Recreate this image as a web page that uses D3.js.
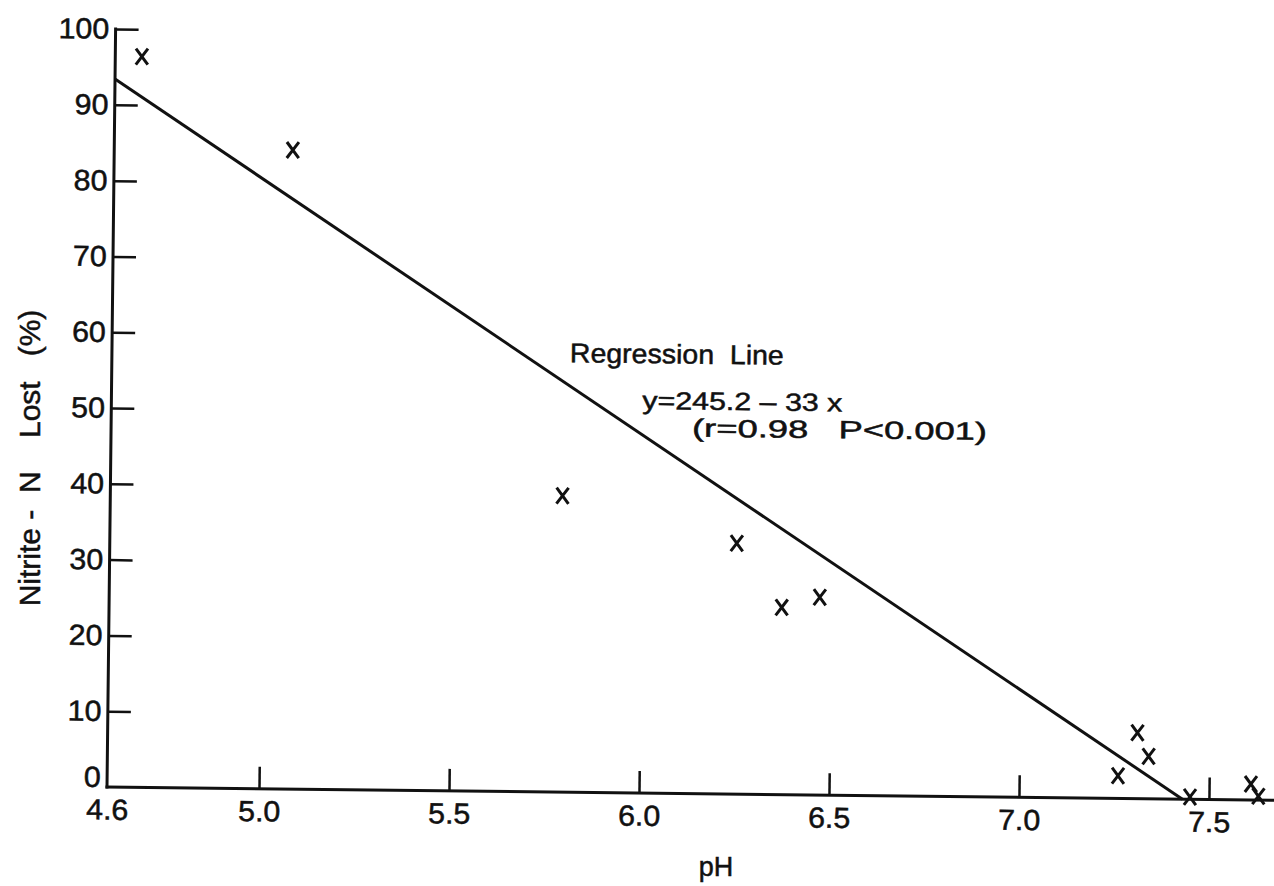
<!DOCTYPE html>
<html>
<head>
<meta charset="utf-8">
<script src="https://cdn.jsdelivr.net/npm/d3@7"></script>
<style>
  html, body { margin: 0; padding: 0; background: #fff; }
  svg { display: block; }
  text { font-family: "Liberation Sans", Arial, sans-serif; fill: #111; stroke: #111; stroke-width: 0.5px; }
</style>
</head>
<body>
<svg id="chart" width="1274" height="886"></svg>
<script>
// Observations: soil pH against percentage of nitrite-N lost
const phValues   = [4.67, 5.07, 5.79, 6.25, 6.37, 6.47, 7.26, 7.31, 7.34, 7.45, 7.61, 7.63];
const lossValues = [96.4, 84.3, 39.1, 33.1, 24.7, 26.1, 3.0, 8.7, 5.6, 0.3, 2.1, 0.5];

// Fitted regression y = a + b x
const regIntercept = 245.2;
const regSlope = -33;

const xTicks = [4.6, 5.0, 5.5, 6.0, 6.5, 7.0, 7.5];
const xTickLabels = ["4.6", "5.0", "5.5", "6.0", "6.5", "7.0", "7.5"];
const yTicks = [0, 10, 20, 30, 40, 50, 60, 70, 80, 90, 100];
const yTickLabels = ["0", "10", "20", "30", "40", "50", "60", "70", "80", "90", "100"];

const annotationLines = ["Regression  Line", "y=245.2 \u2013 33 x", "(r=0.98   P<0.001)"];

const svg = d3.select("#chart");
const ink = "#111";

// Plot frame, origin at the axis corner, slightly tilted
const g = svg.append("g")
  .attr("transform", "translate(107,787) rotate(0.65)");

const x = d3.scaleLinear().domain([4.6, 7.5]).range([0, 1102]);
const y = d3.scaleLinear().domain([0, 100]).range([0, -758]);
const xEnd = 7.68;

// Axis lines
g.append("line")
  .attr("x1", x(4.6)).attr("y1", 0).attr("x2", x(xEnd)).attr("y2", 0)
  .attr("stroke", ink).attr("stroke-width", 3).attr("stroke-linecap", "square");
g.append("line")
  .attr("x1", 0).attr("y1", y(0)).attr("x2", 0).attr("y2", y(100))
  .attr("stroke", ink).attr("stroke-width", 3).attr("stroke-linecap", "square");

// X axis: ticks pointing up into the plot
const xAxis = d3.axisBottom(x)
  .tickValues(xTicks)
  .tickFormat((d, i) => xTickLabels[i])
  .tickSizeInner(-22).tickSizeOuter(0).tickPadding(12);
const gx = g.append("g").call(xAxis);
gx.select(".domain").remove();
gx.selectAll(".tick line").attr("stroke", ink).attr("stroke-width", 2.5)
  .filter(d => d === 4.6).remove();
gx.selectAll(".tick text")
  .attr("font-size", 29).attr("font-family", "Liberation Sans, Arial, sans-serif").attr("fill", ink)
  .attr("transform", "scale(1.05,1)");

// Y axis: ticks pointing right into the plot
const yAxis = d3.axisLeft(y)
  .tickValues(yTicks)
  .tickFormat((d, i) => yTickLabels[i])
  .tickSizeInner(-23).tickSizeOuter(0).tickPadding(6);
const gy = g.append("g").call(yAxis);
gy.select(".domain").remove();
gy.selectAll(".tick line").attr("stroke", ink).attr("stroke-width", 2.5)
  .filter(d => d === 0).remove();
gy.selectAll(".tick text")
  .attr("font-size", 29).attr("font-family", "Liberation Sans, Arial, sans-serif").attr("fill", ink)
  .attr("transform", "scale(1.05,1)")
  .filter(d => d === 0).attr("dy", "-0.02em");

// Regression line, drawn from the stated equation down to its x-intercept
const xStart = 4.6;
const xZero = -regIntercept / regSlope;
const regLine = d3.line().x(d => x(d)).y(d => y(regIntercept + regSlope * d));
g.append("path")
  .attr("d", regLine([xStart, xZero]))
  .attr("fill", "none").attr("stroke", ink).attr("stroke-width", 3);

// Data markers as "x" crosses
const pts = phValues.map((p, i) => ({ p, v: lossValues[i] }));
const mk = g.append("g").selectAll("g").data(pts).join("g")
  .attr("transform", d => `translate(${x(d.p)},${y(d.v)})`);
mk.append("path")
  .attr("d", "M-6,-8L6,8M6,-8L-6,8")
  .attr("fill", "none").attr("stroke", ink).attr("stroke-width", 3);

// Annotation block: wide lettering, stretched horizontally to its set width
const ann = [
  { t: annotationLines[0], u: 458, v: -430, size: 27, w: 214 },
  { t: annotationLines[1], u: 531, v: -384, size: 25, w: 200 },
  { t: annotationLines[2], u: 581, v: -357, size: 25, w: 295 }
];
const annG = g.append("g").selectAll("g").data(ann).join("g")
  .attr("transform", d => `translate(${d.u},${d.v})`);
annG.append("text")
  .attr("font-size", d => d.size)
  .style("white-space", "pre")
  .text(d => d.t)
  .each(function (d) {
    const natural = this.getComputedTextLength();
    d3.select(this).attr("transform", `scale(${d.w / natural},1)`);
  });

// Axis titles
svg.append("text")
  .attr("x", 716).attr("y", 876)
  .attr("text-anchor", "middle")
  .attr("font-size", 27)
  .text("pH");

svg.append("text")
  .attr("transform", "translate(40,458) rotate(-90)")
  .attr("text-anchor", "middle")
  .attr("font-size", 30)
  .style("white-space", "pre")
  .text("Nitrite -  N    Lost   (%)");
</script>
</body>
</html>
